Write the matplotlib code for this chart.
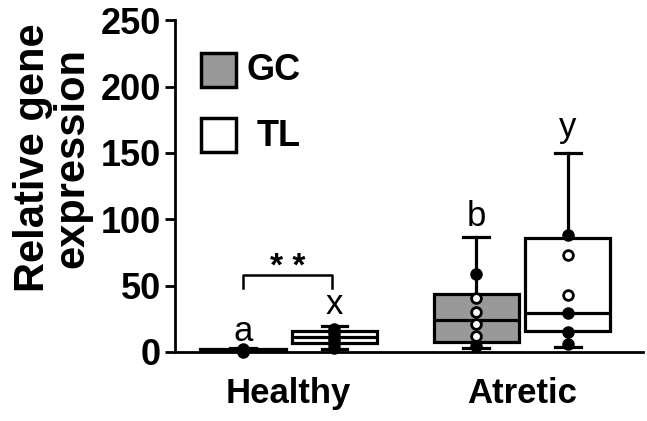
import matplotlib
matplotlib.use("Agg")
import matplotlib.pyplot as plt
from matplotlib.patches import Rectangle

plt.rcParams['font.family'] = ['Liberation Sans', 'DejaVu Sans']

# groups and series
groups = ["Healthy", "Atretic"]
series = ["GC", "TL"]
series_colors = ["#999999", "#ffffff"]

# box statistics: (whislo, q1, med, q3, whishi)
gc_stats = [(0.1, 0.4, 1.0, 2.5, 3.0), (3.0, 7.5, 24.0, 43.5, 87.0)]
tl_stats = [(2.0, 7.0, 11.0, 15.5, 19.5), (4.0, 15.8, 29.0, 86.0, 150.0)]

# individual points: (value, filled?)
gc_points = [
    [(0.3, True), (0.6, True), (1.0, True), (1.5, True), (2.0, True)],
    [(58.5, True), (41.0, False), (30.0, False), (21.0, False), (12.0, False), (4.5, True)],
]
tl_points = [
    [(3.0, True), (6.0, True), (9.0, True), (11.0, True), (14.0, True), (17.0, True)],
    [(88.0, True), (73.0, False), (43.0, False), (29.0, True), (15.0, True), (6.0, True)],
]

# significance letters above boxes
gc_letters = [("a", 3), ("b", 90)]
tl_letters = [("x", 23), ("y", 157)]

yticks = [0, 50, 100, 150, 200, 250]

fig = plt.figure(figsize=(6.47, 4.21), dpi=100)
ax = fig.add_axes([0.270, 0.164, 0.724, 0.788])

offset = 0.196
width = 0.365
centers = [1, 2]

for s, (stats, points, letters, color, sign) in enumerate([
        (gc_stats, gc_points, gc_letters, series_colors[0], -1),
        (tl_stats, tl_points, tl_letters, series_colors[1], 1)]):
    pos = [c + sign * offset for c in centers]
    bxp_stats = []
    for st in stats:
        bxp_stats.append(dict(whislo=st[0], q1=st[1], med=st[2], q3=st[3],
                              whishi=st[4], fliers=[]))
    ax.bxp(bxp_stats, positions=pos, widths=width, patch_artist=True,
           showfliers=False, capwidths=0.11,
           boxprops=dict(facecolor=color, edgecolor='black', linewidth=2.3),
           medianprops=dict(color='black', linewidth=2.3),
           whiskerprops=dict(color='black', linewidth=2.3),
           capprops=dict(color='black', linewidth=2.3), zorder=2)
    for p, pts in zip(pos, points):
        for v, filled in pts:
            ax.plot(p, v, 'o', ms=7, mew=2, mec='black',
                    mfc='black' if filled else 'white', zorder=4, clip_on=False)
    for p, (lab, v) in zip(pos, letters):
        ax.text(p, v, lab, ha='center', va='bottom', fontsize=25)

# significance bracket between healthy GC and TL
bx0, bx1 = centers[0] - offset, centers[0] + offset - 0.01
ax.plot([bx0, bx0, bx1, bx1], [48, 58, 58, 48], color='black', lw=1.8)
ax.text((bx0 + bx1) / 2, 64, "* *", ha='center', va='center', fontsize=24,
        fontweight='bold')

ax.set_xlim(0.511, 2.519)
ax.set_ylim(0, 250)
ax.set_yticks(yticks)
ax.set_xticks(centers)
ax.set_xticklabels(groups, fontsize=25, fontweight='bold')
ax.tick_params(axis='x', length=0, pad=18)
ax.tick_params(axis='y', length=7, width=2, labelsize=26, pad=3)
for lab in ax.get_yticklabels():
    lab.set_fontweight('bold')
for side in ['top', 'right']:
    ax.spines[side].set_visible(False)
for side in ['left', 'bottom']:
    ax.spines[side].set_linewidth(2)

fig.text(53 / 647, 1 - 158 / 421, "Relative gene\nexpression", rotation=90,
         ha='center', va='center', fontsize=30, fontweight='bold',
         multialignment='center', linespacing=0.98)

# legend drawn as squares and labels
for i, (name, color) in enumerate(zip(series, series_colors)):
    y0 = 1 - (87 + i * 65) / 421
    fig.patches.append(Rectangle((201 / 647, y0), 35 / 647, 34 / 421,
                                 transform=fig.transFigure, facecolor=color,
                                 edgecolor='black', linewidth=2.5))
    fig.text((247 + i * 10) / 647, y0 + 16 / 421, name, ha='left',
             va='center', fontsize=26, fontweight='bold')

fig.savefig("out.png", dpi=100)
